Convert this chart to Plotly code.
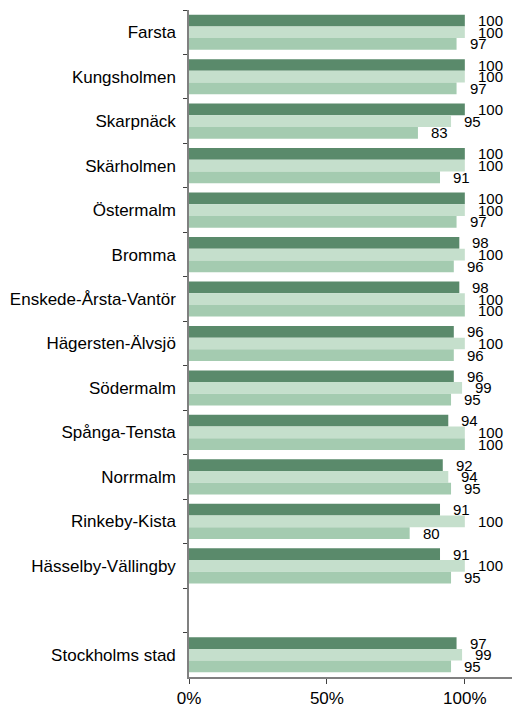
import plotly.graph_objects as go

categories = ["Farsta", "Kungsholmen", "Skarpnäck", "Skärholmen", "Östermalm", "Bromma",
              "Enskede-Årsta-Vantör", "Hägersten-Älvsjö", "Södermalm", "Spånga-Tensta",
              "Norrmalm", "Rinkeby-Kista", "Hässelby-Vällingby", " ", "Stockholms stad"]

serie_1 = [100, 100, 100, 100, 100, 98, 98, 96, 96, 94, 92, 91, 91, None, 97]
serie_2 = [100, 100, 95, 100, 100, 100, 100, 100, 99, 100, 94, 100, 100, None, 99]
serie_3 = [97, 97, 83, 91, 97, 96, 100, 96, 95, 100, 95, 80, 95, None, 95]

series = [serie_1, serie_2, serie_3]
colors = ["#5A8A6B", "#C5DFCC", "#A4CBB0"]
yshifts = [11.7, 0, -11.7]

FONT = "Arial, Liberation Sans, sans-serif"

fig = go.Figure()
for vals, col in zip(series, colors):
    fig.add_trace(go.Bar(
        y=categories, x=vals, orientation="h",
        marker=dict(color=col, line=dict(width=0)),
        showlegend=False, hoverinfo="x+y",
    ))

annotations = []
for vals, ys in zip(series, yshifts):
    for cat, v in zip(categories, vals):
        if v is None:
            continue
        annotations.append(dict(
            x=v, y=cat, xref="x", yref="y", text=str(v), showarrow=False,
            xanchor="left", yanchor="middle", xshift=11, yshift=ys,
            font=dict(family=FONT, size=15, color="#000000"),
        ))

# The page body adds an 8px offset, so the figure is 8px smaller on each axis.
fig.update_layout(
    width=512, height=700,
    margin=dict(l=181, r=0, t=2, b=29),
    paper_bgcolor="white", plot_bgcolor="white",
    barmode="group", bargap=0.21, bargroupgap=0,
    font=dict(family=FONT, size=17, color="#000000"),
    annotations=annotations,
)
fig.update_xaxes(
    range=[0, 120], tickvals=[0, 50, 100], ticktext=["0%", "50%", "100%"],
    showgrid=False, zeroline=False, showline=True, linecolor="#808080", linewidth=1.5,
    ticks="outside", ticklen=5, tickcolor="#404040", tickwidth=1,
    tickfont=dict(family=FONT, size=17, color="#000000"),
)
fig.update_yaxes(
    categoryorder="array", categoryarray=categories, autorange="reversed",
    showgrid=False, zeroline=False, showline=True, linecolor="#808080", linewidth=1.5,
    ticks="outside", ticklen=4, tickcolor="#404040", tickwidth=1, tickson="boundaries",
    ticklabelstandoff=8,
    tickfont=dict(family=FONT, size=17, color="#000000"),
)

fig.write_html("out.html")
